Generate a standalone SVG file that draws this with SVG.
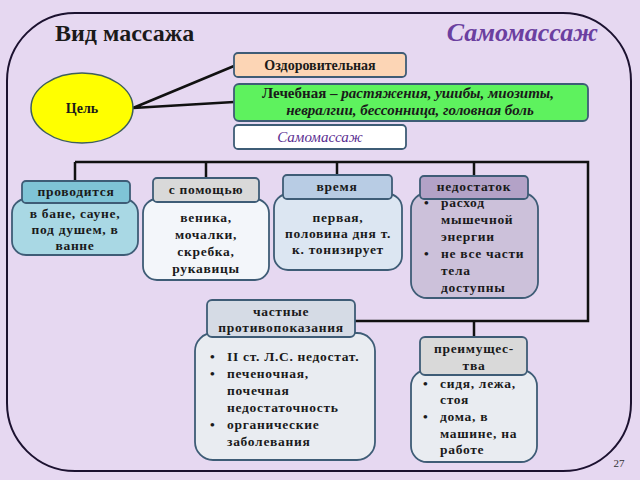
<svg xmlns="http://www.w3.org/2000/svg" width="640" height="480" viewBox="0 0 640 480">
<style>
.t{font-family:"Liberation Serif","Times New Roman",serif;font-weight:bold;font-size:13.5px;fill:#1a1a1a;letter-spacing:0.7px}
.c{text-anchor:middle}
.it{font-style:italic}
.h{letter-spacing:0}
.box{stroke:#3E5C76;stroke-width:1.8}
.ln{stroke:#111;stroke-width:2.5;fill:none}
</style>
<rect width="640" height="480" fill="#E6D8F1"/>
<rect x="7" y="13" width="624" height="458" rx="68" ry="68" fill="#E6D8F1" stroke="#1c1230" stroke-width="2"/>
<text x="55" y="41" class="t h" style="font-size:24px">Вид массажа</text>
<text x="598" y="41" class="t it h" style="font-size:26px;fill:#6B3FA0;text-anchor:end">Самомассаж</text>
<g id="connectors">
<path class="ln" d="M133 108 L234 66 M133 108 L234 102"/>
<path class="ln" d="M75 162 H588 V321 H355 M75 162 V181 M206 162 V178 M337 162 V175 M474 162 V176 M474 321 V337"/>
</g>
<g id="goal">
<ellipse cx="82" cy="108" rx="51" ry="35" fill="#FFFF00" stroke="#3E5F5C" stroke-width="1.5"/>
<text x="82" y="113" class="t c h" style="font-size:14px">Цель</text>
</g>
<g id="health">
<rect x="234" y="53" width="172" height="24" rx="4" fill="#FCD5B5" class="box"/>
<text x="320" y="70" class="t c h" style="font-size:14px">Оздоровительная</text>
</g>
<g id="medical">
<rect x="234" y="84" width="354" height="37" rx="5" fill="#5EF25E" class="box"/>
<text x="408" y="98" class="t c h" style="font-size:15px">Лечебная – <tspan class="it">растяжения, ушибы, миозиты,</tspan></text>
<text x="410" y="115" class="t c it h" style="font-size:15px">невралгии, бессонница, головная боль</text>
</g>
<g id="self">
<rect x="234" y="125" width="172" height="24" rx="4" fill="#FFFFFF" class="box"/>
<text x="320" y="142" class="t c it h" style="font-weight:normal;font-size:15px;fill:#5B2E91">Самомассаж</text>
</g>
<g id="where">
<rect x="12" y="199" width="126" height="56" rx="14" fill="#A9D8E4" class="box"/>
<rect x="22" y="181" width="108" height="22" rx="4" fill="#7FC4D6" class="box"/>
<text x="76" y="196" class="t c">проводится</text>
<text x="75" y="218" class="t c">в бане, сауне,</text>
<text x="75" y="234" class="t c">под душем, в</text>
<text x="75" y="250" class="t c">ванне</text>
</g>
<g id="with">
<rect x="143" y="199" width="126" height="81" rx="14" fill="#F3F6FA" class="box"/>
<rect x="153" y="178" width="106" height="24" rx="4" fill="#D9D9D9" class="box"/>
<text x="206" y="194" class="t c">с помощью</text>
<text x="206" y="222" class="t c">веника,</text>
<text x="206" y="239" class="t c">мочалки,</text>
<text x="206" y="256" class="t c">скребка,</text>
<text x="206" y="273" class="t c">рукавицы</text>
</g>
<g id="time">
<rect x="274" y="194" width="128" height="76" rx="14" fill="#DCE6F2" class="box"/>
<text x="338" y="222" class="t c">первая,</text>
<text x="338" y="238" class="t c">половина дня т.</text>
<text x="338" y="254" class="t c">к. тонизирует</text>
<rect x="283" y="175" width="109" height="24" rx="4" fill="#B8CCE4" class="box"/>
<text x="337" y="191" class="t c">время</text>
</g>
<g id="lack">
<rect x="411" y="193" width="127" height="105" rx="16" fill="#CCC1DA" class="box"/>
<rect x="420" y="176" width="108" height="23" rx="4" fill="#B3A2C7" class="box"/>
<text x="474" y="191" class="t c">недостаток</text>
<text x="424" y="207" class="t">•</text><text x="441" y="207" class="t">расход</text>
<text x="441" y="224" class="t">мышечной</text>
<text x="441" y="241" class="t">энергии</text>
<text x="424" y="258" class="t">•</text><text x="441" y="258" class="t">не  все части</text>
<text x="441" y="275" class="t">тела</text>
<text x="441" y="292" class="t">доступны</text>
</g>
<g id="contra">
<rect x="195" y="333" width="180" height="127" rx="18" fill="#E9ECF1" class="box"/>
<rect x="207" y="300" width="148" height="37" rx="5" fill="#D5DBE5" class="box"/>
<text x="281" y="316" class="t c">частные</text>
<text x="281" y="332" class="t c">противопоказания</text>
<text x="210" y="361" class="t">•</text><text x="227" y="361" class="t">II ст. Л.С. недостат.</text>
<text x="210" y="378" class="t">•</text><text x="227" y="378" class="t">печеночная,</text>
<text x="227" y="395" class="t">почечная</text>
<text x="227" y="412" class="t">недостаточность</text>
<text x="210" y="429" class="t">•</text><text x="227" y="429" class="t">органические</text>
<text x="227" y="446" class="t">заболевания</text>
</g>
<g id="adv">
<rect x="411" y="370" width="126" height="92" rx="16" fill="#E9ECF1" class="box"/>
<rect x="420" y="337" width="107" height="38" rx="5" fill="#D9D9D9" class="box"/>
<text x="474" y="353" class="t c">преимущес-</text>
<text x="474" y="370" class="t c">тва</text>
<text x="423" y="388" class="t">•</text><text x="440" y="388" class="t">сидя, лежа,</text>
<text x="440" y="404" class="t">стоя</text>
<text x="423" y="421" class="t">•</text><text x="440" y="421" class="t">дома, в</text>
<text x="440" y="438" class="t">машине, на</text>
<text x="440" y="454" class="t">работе</text>
</g>
<text x="619" y="467" class="t c h" style="font-weight:normal;font-size:11px;fill:#333">27</text>
</svg>
